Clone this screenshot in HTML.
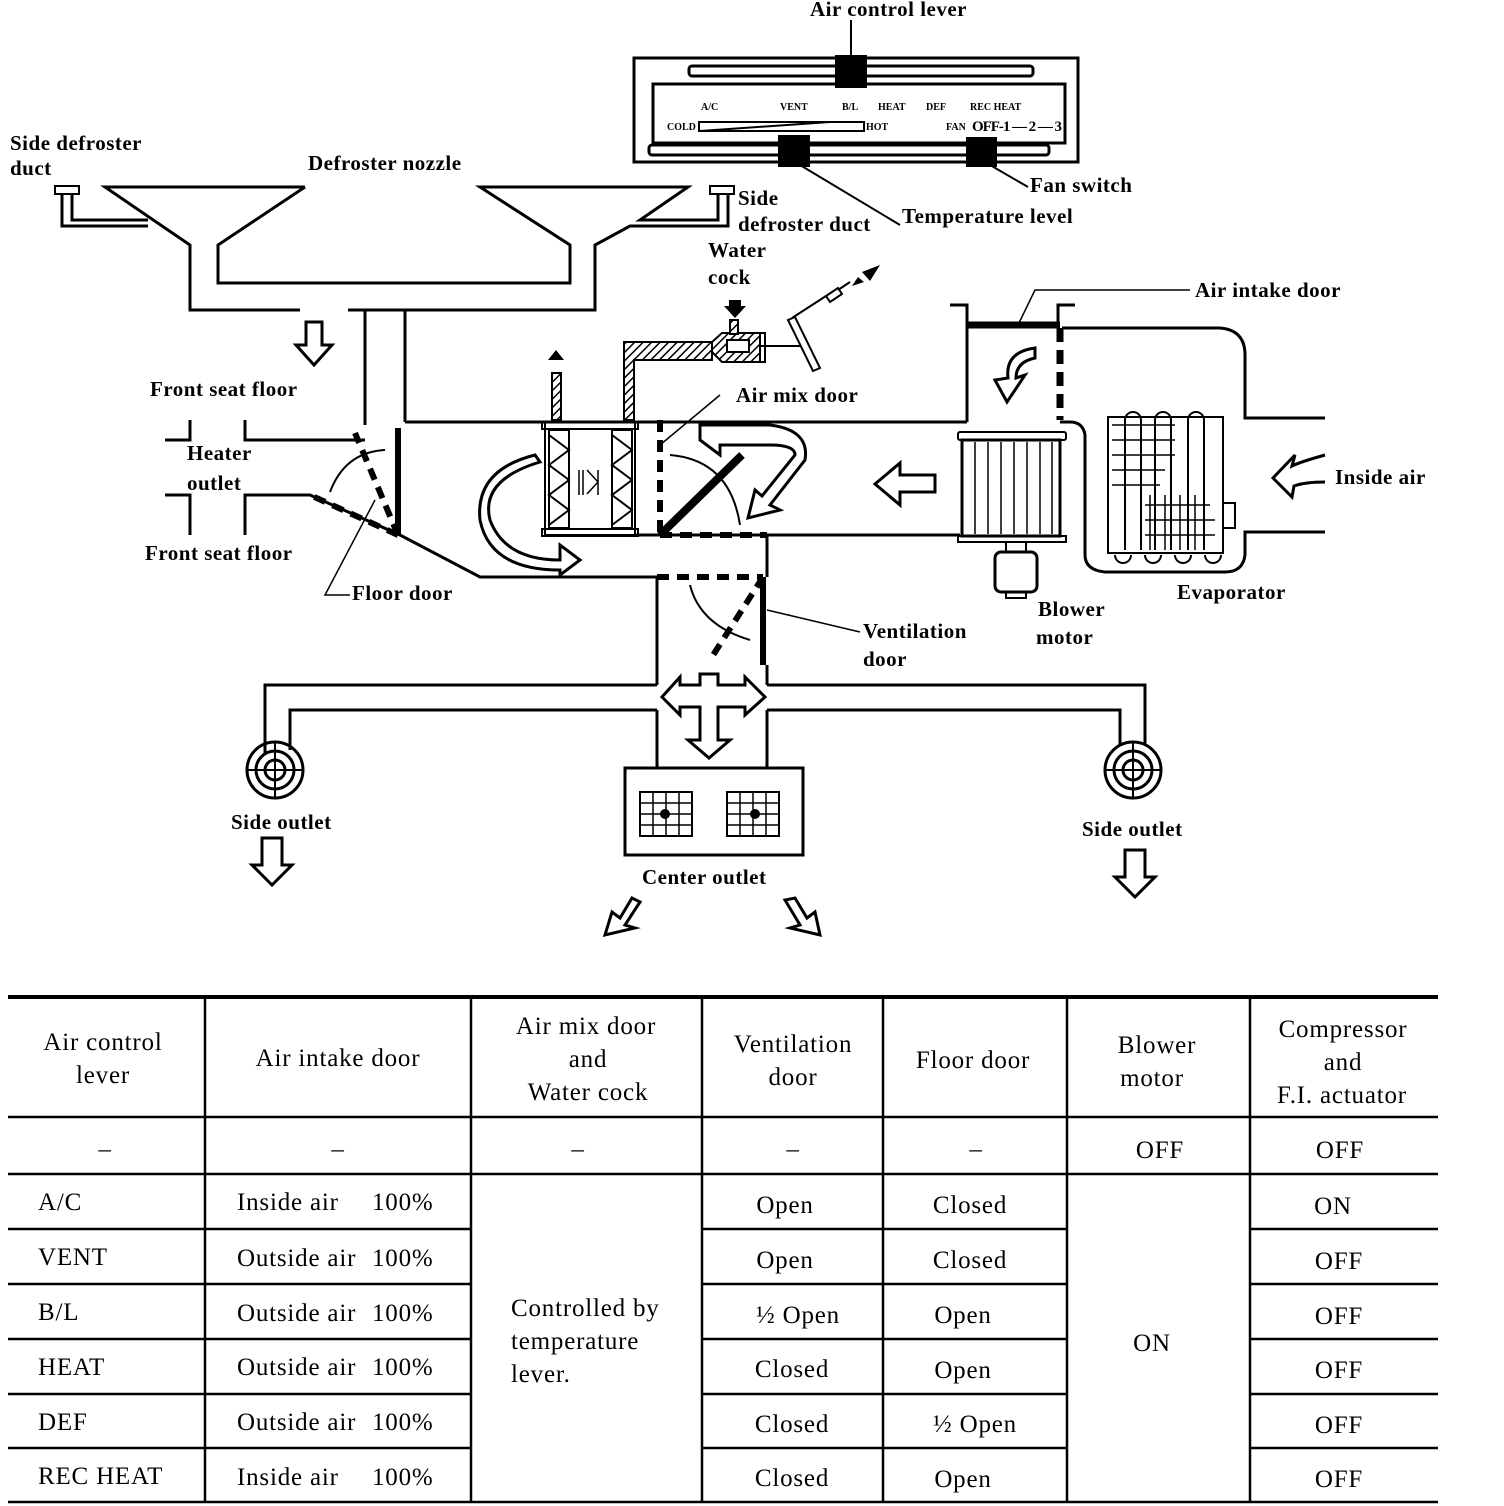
<!DOCTYPE html>
<html><head><meta charset="utf-8"><style>
html,body{margin:0;padding:0;background:#fff;}
svg{display:block;}
text{font-family:"Liberation Serif",serif;fill:#000;}
.l{font-size:21px;font-weight:bold;letter-spacing:0.5px;}
.t{font-size:25px;letter-spacing:0.8px;}
</style></head><body>
<svg width="1504" height="1506" viewBox="0 0 1504 1506" xmlns="http://www.w3.org/2000/svg">
<defs>
<pattern id="h" width="6" height="6" patternUnits="userSpaceOnUse" patternTransform="rotate(45)">
<rect width="6" height="6" fill="#fff"/><line x1="0" y1="0" x2="0" y2="6" stroke="#000" stroke-width="3"/>
</pattern>
</defs>
<g fill="none" stroke="#000" stroke-width="3">
<!-- control panel -->
<rect x="634" y="58" width="444" height="104"/>
<rect x="689" y="66" width="344" height="10" rx="3"/>
<rect x="653" y="84" width="412" height="59"/>
<rect x="649" y="145" width="400" height="10" rx="3"/>
<rect x="699" y="122" width="165" height="9" stroke-width="2"/>
<line x1="700" y1="131" x2="830" y2="122" stroke-width="2"/>
<line x1="851" y1="20" x2="851" y2="56" stroke-width="2"/>
<line x1="800" y1="165" x2="900" y2="225" stroke-width="2"/>
<line x1="990" y1="165" x2="1028" y2="187" stroke-width="2"/>
<!-- defroster nozzles -->
<polyline points="305,187 105,187 190,245 190,310 300,310"/>
<polyline points="305,187 218,245 218,283 570,283 570,245 480,187 688,187 640,220 718,220 718,193"/>
<polyline points="728,193 728,226 630,226 595,245 595,310 348,310"/>
<polyline points="148,220 72,220 72,193"/>
<polyline points="148,226 62,226 62,193"/>
<rect x="55" y="186" width="24" height="8" stroke-width="2"/>
<rect x="710" y="186" width="24" height="8" stroke-width="2"/>
<line x1="405" y1="310" x2="405" y2="422"/>
<line x1="365" y1="310" x2="365" y2="425"/>
<!-- front seat floor / heater outlet -->
<polyline points="165,440 190,440 190,420"/>
<polyline points="245,420 245,440 365,440"/>
<polyline points="165,495 190,495 190,535"/>
<polyline points="245,535 245,495 310,495 400,535 480,577 657,577"/>
<!-- case -->
<line x1="405" y1="422" x2="967" y2="422"/>
<line x1="635" y1="535" x2="960" y2="535"/>
<polyline points="950,305 967,305 967,422"/>
<polyline points="1058,328 1058,305 1075,305"/>
<path d="M1062 328 H1220 Q1245 330 1245 355 V418 H1325"/>
<path d="M1325 532 H1245 V555 Q1243 572 1225 572 H1105 Q1085 570 1085 555 V435 Q1083 422 1070 422 H1060"/>
<!-- heater core -->
<rect x="545" y="422" width="90" height="113" stroke-width="2"/>
<rect x="542" y="422" width="96" height="7" stroke-width="2"/>
<rect x="542" y="529" width="96" height="7" stroke-width="2"/>
<rect x="549" y="430" width="20" height="98" stroke-width="2"/>
<rect x="612" y="430" width="20" height="98" stroke-width="2"/>
<polyline points="549,435 569,450 549,465 569,480 549,495 569,510 549,525" stroke-width="2"/>
<polyline points="612,435 632,450 612,465 632,480 612,495 632,510 612,525" stroke-width="2"/>
<path d="M579 470V495M583 470V495M587 470L598 482L587 494M598 470V495" stroke-width="1.5"/>
<!-- water pipe -->
<path d="M624 420 V342 H712 V360 H634 V420Z" fill="url(#h)" stroke-width="2"/>
<path d="M712 342 L722 333 H760 V362 H722 L712 352Z" fill="url(#h)" stroke-width="2"/>
<rect x="727" y="340" width="22" height="12" fill="#fff" stroke-width="2"/>
<rect x="730" y="320" width="8" height="14" fill="url(#h)" stroke-width="2"/>
<line x1="760" y1="346" x2="800" y2="346" stroke-width="2"/>
<rect x="760" y="333" width="5" height="29" stroke-width="2"/>
<polygon points="788,320 795,317 820,368 813,371" stroke-width="2"/>
<line x1="792" y1="318" x2="826" y2="296" stroke-width="2"/>
<polygon points="826,296 838,288 842,294 830,302" stroke-width="2"/>
<line x1="838" y1="290" x2="850" y2="282" stroke-width="2"/>
<!-- exhaust pipe -->
<rect x="552" y="373" width="9" height="47" fill="url(#h)" stroke-width="2"/>
<!-- vertical duct down -->
<line x1="657" y1="577" x2="657" y2="685"/>
<line x1="767" y1="535" x2="767" y2="577"/>
<line x1="767" y1="665" x2="767" y2="685"/>
<polyline points="657,685 265,685 265,755"/>
<polyline points="657,710 290,710 290,750"/>
<polyline points="767,685 1145,685 1145,745"/>
<polyline points="767,710 1120,710 1120,745"/>
<line x1="657" y1="710" x2="657" y2="768"/>
<line x1="767" y1="710" x2="767" y2="768"/>
<rect x="625" y="768" width="178" height="87"/>
<rect x="640" y="792" width="52" height="44" stroke-width="2"/>
<rect x="727" y="792" width="52" height="44" stroke-width="2"/>
<path d="M653 792V836M666 792V836M679 792V836M640 803H692M640 814H692M640 825H692M740 792V836M753 792V836M766 792V836M727 803H779M727 814H779M727 825H779" stroke-width="1.5"/>
<!-- side outlet rings -->
<circle cx="275" cy="770" r="28"/><circle cx="275" cy="770" r="19"/><circle cx="275" cy="770" r="10"/>
<circle cx="1133" cy="770" r="28"/><circle cx="1133" cy="770" r="19"/><circle cx="1133" cy="770" r="10"/>
<path d="M247 770H303M275 742V798M1105 770H1161M1133 742V798" stroke-width="2"/>
<!-- blower -->
<rect x="958" y="432" width="108" height="8" rx="2" stroke-width="2"/>
<rect x="962" y="440" width="98" height="96"/>
<rect x="958" y="536" width="108" height="6" stroke-width="2"/>
<path d="M975 442V534M988 442V534M1001 442V534M1014 442V534M1027 442V534M1040 442V534M1052 442V534" stroke-width="1.5"/>
<rect x="1006" y="542" width="20" height="10" stroke-width="2"/>
<rect x="995" y="552" width="42" height="40" rx="6"/>
<rect x="1006" y="592" width="20" height="6" stroke-width="2"/>
<!-- evaporator -->
<rect x="1108" y="417" width="115" height="136" stroke-width="2"/>
<path d="M1125 550V420A8 8 0 0 1 1141 420V550M1155 550V420A8 8 0 0 1 1171 420V550M1188 550V420A8 8 0 0 1 1204 420V550" stroke-width="2"/>
<path d="M1112 425H1175M1112 440H1175M1112 455H1175M1112 470H1165M1112 485H1160M1145 505H1210M1145 520H1215M1145 535H1215M1150 495V550M1165 495V550M1180 495V550M1195 495V550" stroke-width="1.5"/>
<path d="M1115 555A8 8 0 0 0 1131 555M1145 555A8 8 0 0 0 1161 555M1175 555A8 8 0 0 0 1191 555M1205 555A8 8 0 0 0 1221 555" stroke-width="2"/>
<rect x="1223" y="503" width="12" height="25" stroke-width="2"/>
<!-- doors -->
<line x1="967" y1="325" x2="1060" y2="325" stroke-width="7"/>
<line x1="1060" y1="328" x2="1060" y2="420" stroke-width="7" stroke-dasharray="14,8"/>
<line x1="398" y1="428" x2="398" y2="535" stroke-width="6"/>
<line x1="398" y1="535" x2="355" y2="433" stroke-width="6" stroke-dasharray="12,8"/>
<line x1="398" y1="535" x2="310" y2="495" stroke-width="6" stroke-dasharray="12,8"/>
<path d="M330 492 Q345 452 385 450" stroke-width="2"/>
<line x1="660" y1="420" x2="660" y2="535" stroke-width="6" stroke-dasharray="12,8"/>
<line x1="660" y1="535" x2="767" y2="535" stroke-width="6" stroke-dasharray="12,8"/>
<line x1="660" y1="535" x2="742" y2="455" stroke-width="8"/>
<path d="M670 455 Q730 460 740 525" stroke-width="2"/>
<line x1="657" y1="577" x2="763" y2="577" stroke-width="6" stroke-dasharray="12,8"/>
<line x1="763" y1="577" x2="763" y2="665" stroke-width="6"/>
<line x1="763" y1="577" x2="710" y2="660" stroke-width="6" stroke-dasharray="12,8"/>
<path d="M690 585 Q700 625 750 640" stroke-width="2"/>
<!-- leader lines -->
<polyline points="1018,325 1035,290 1190,290" stroke-width="1.5"/>
<line x1="660" y1="445" x2="720" y2="395" stroke-width="1.5"/>
<line x1="767" y1="610" x2="860" y2="632" stroke-width="1.5"/>
<polyline points="350,595 325,595 375,500" stroke-width="1.5"/>
<!-- arrows (outline) -->
<polygon points="306,322 322,322 322,345 332,345 314,365 296,345 306,345"/>
<polygon points="935,475 900,475 900,463 875,484 900,505 900,492 935,492"/>
<polygon points="262,838 282,838 282,865 292,865 272,885 252,865 262,865"/>
<polygon points="1125,850 1145,850 1145,877 1155,877 1135,897 1115,877 1125,877"/>
<polygon points="700,685 700,674 718,674 718,685 745,685 745,677 765,697 745,715 745,707 718,707 718,740 730,740 709,758 688,740 700,740 700,707 680,707 680,715 662,697 680,677 680,685"/>
<path d="M640 902 L625 925 L635 928 L605 935 L612 912 L620 918 L632 898Z"/>
<path d="M785 900 L800 925 L790 928 L820 935 L815 912 L807 918 L795 898Z"/>
<path d="M540 462 Q480 480 490 520 Q505 560 560 560 L560 545 L580 560 L560 575 L560 570 Q490 570 480 520 Q475 470 535 455Z"/>
<path d="M700 440 L700 425 L770 425 Q810 430 805 460 L770 505 L780 510 L748 518 L755 490 L762 496 L795 455 Q795 445 770 445 L720 445 L720 455Z"/>
<path d="M1035 348 Q1005 352 1008 378 L995 380 L1007 402 L1025 375 L1016 378 Q1016 362 1035 358Z"/>
<path d="M1325 455 Q1300 462 1292 466 L1295 455 L1273 478 L1292 497 L1294 486 Q1305 482 1325 482"/>
</g>
<g fill="#000">
<rect x="835" y="55" width="32" height="33"/>
<rect x="778" y="135" width="32" height="32"/>
<rect x="966" y="137" width="31" height="30"/>
<polygon points="548,360 556,350 564,360"/>
<polygon points="729,300 741,300 741,306 746,306 735,318 724,306 729,306"/>
<polygon points="862,272 880,265 870,281"/>
<polygon points="852,286 858,277 864,282"/>
<circle cx="665" cy="814" r="5"/><circle cx="755" cy="814" r="5"/>
</g>
<g font-size="10" font-weight="bold" font-family="Liberation Sans">
<text x="701" y="110">A/C</text><text x="780" y="110">VENT</text><text x="842" y="110">B/L</text><text x="878" y="110">HEAT</text><text x="926" y="110">DEF</text><text x="970" y="110">REC HEAT</text>
<text x="667" y="130">COLD</text><text x="866" y="130">HOT</text><text x="946" y="130">FAN</text>
</g>
<text x="972" y="131" font-size="15" font-weight="bold" textLength="90">OFF-1 — 2 — 3</text>
<g class="l">
<text x="810" y="16">Air control lever</text>
<text x="10" y="150">Side defroster</text><text x="10" y="175">duct</text>
<text x="308" y="170">Defroster nozzle</text>
<text x="738" y="205">Side</text><text x="738" y="231">defroster duct</text>
<text x="1030" y="192">Fan switch</text>
<text x="902" y="223">Temperature level</text>
<text x="708" y="257">Water</text><text x="708" y="284">cock</text>
<text x="1195" y="297">Air intake door</text>
<text x="150" y="396">Front seat floor</text>
<text x="736" y="402">Air mix door</text>
<text x="187" y="460">Heater</text><text x="187" y="490">outlet</text>
<text x="1335" y="484">Inside air</text>
<text x="145" y="560">Front seat floor</text>
<text x="352" y="600">Floor door</text>
<text x="1177" y="599">Evaporator</text>
<text x="1038" y="616">Blower</text><text x="1036" y="644">motor</text>
<text x="863" y="638">Ventilation</text><text x="863" y="666">door</text>
<text x="231" y="829">Side outlet</text>
<text x="1082" y="836">Side outlet</text>
<text x="642" y="884">Center outlet</text>
</g>
<!-- table -->
<g stroke="#000" fill="none">
<line x1="8" y1="997" x2="1438" y2="997" stroke-width="4"/>
<line x1="8" y1="1117" x2="1438" y2="1117" stroke-width="2.5"/>
<line x1="8" y1="1174" x2="1438" y2="1174" stroke-width="2.5"/>
<line x1="8" y1="1229" x2="471" y2="1229" stroke-width="2.5"/><line x1="702" y1="1229" x2="1067" y2="1229" stroke-width="2.5"/><line x1="1250" y1="1229" x2="1438" y2="1229" stroke-width="2.5"/>
<line x1="8" y1="1284" x2="471" y2="1284" stroke-width="2.5"/><line x1="702" y1="1284" x2="1067" y2="1284" stroke-width="2.5"/><line x1="1250" y1="1284" x2="1438" y2="1284" stroke-width="2.5"/>
<line x1="8" y1="1339" x2="471" y2="1339" stroke-width="2.5"/><line x1="702" y1="1339" x2="1067" y2="1339" stroke-width="2.5"/><line x1="1250" y1="1339" x2="1438" y2="1339" stroke-width="2.5"/>
<line x1="8" y1="1394" x2="471" y2="1394" stroke-width="2.5"/><line x1="702" y1="1394" x2="1067" y2="1394" stroke-width="2.5"/><line x1="1250" y1="1394" x2="1438" y2="1394" stroke-width="2.5"/>
<line x1="8" y1="1448" x2="471" y2="1448" stroke-width="2.5"/><line x1="702" y1="1448" x2="1067" y2="1448" stroke-width="2.5"/><line x1="1250" y1="1448" x2="1438" y2="1448" stroke-width="2.5"/>
<line x1="8" y1="1502" x2="1438" y2="1502" stroke-width="2.5"/>
<path d="M205 997V1502M471 997V1502M702 997V1502M883 997V1502M1067 997V1502M1250 997V1502" stroke-width="2.5"/>
</g>
<g class="t" text-anchor="middle">
<text x="103" y="1050">Air control</text><text x="103" y="1083">lever</text>
<text x="338" y="1066">Air intake door</text>
<text x="586" y="1034">Air mix door</text><text x="588" y="1067">and</text><text x="588" y="1100">Water cock</text>
<text x="793" y="1052">Ventilation</text><text x="793" y="1085">door</text>
<text x="973" y="1068">Floor door</text>
<text x="1157" y="1053">Blower</text><text x="1152" y="1086">motor</text>
<text x="1343" y="1037">Compressor</text><text x="1343" y="1070">and</text><text x="1342" y="1103">F.I. actuator</text>
<text x="105" y="1157">–</text><text x="338" y="1157">–</text><text x="578" y="1157">–</text><text x="793" y="1157">–</text><text x="976" y="1157">–</text>
<text x="1160" y="1158">OFF</text><text x="1340" y="1158">OFF</text>
<text x="785" y="1213">Open</text><text x="970" y="1213">Closed</text><text x="1333" y="1214">ON</text>
<text x="785" y="1268">Open</text><text x="970" y="1268">Closed</text><text x="1339" y="1269">OFF</text>
<text x="798" y="1323">½ Open</text><text x="963" y="1323">Open</text><text x="1339" y="1324">OFF</text>
<text x="792" y="1377">Closed</text><text x="963" y="1378">Open</text><text x="1339" y="1378">OFF</text>
<text x="792" y="1432">Closed</text><text x="975" y="1432">½ Open</text><text x="1339" y="1433">OFF</text>
<text x="792" y="1486">Closed</text><text x="963" y="1487">Open</text><text x="1339" y="1487">OFF</text>
<text x="1152" y="1351">ON</text>
</g>
<g class="t">
<text x="38" y="1210">A/C</text><text x="38" y="1265">VENT</text><text x="38" y="1320">B/L</text><text x="38" y="1375">HEAT</text><text x="38" y="1430">DEF</text><text x="38" y="1484">REC  HEAT</text>
<text x="237" y="1210">Inside air</text><text x="372" y="1210">100%</text>
<text x="237" y="1266">Outside air</text><text x="372" y="1266">100%</text>
<text x="237" y="1321">Outside air</text><text x="372" y="1321">100%</text>
<text x="237" y="1375">Outside air</text><text x="372" y="1375">100%</text>
<text x="237" y="1430">Outside air</text><text x="372" y="1430">100%</text>
<text x="237" y="1485">Inside air</text><text x="372" y="1485">100%</text>
<text x="511" y="1316">Controlled by</text><text x="511" y="1349">temperature</text><text x="511" y="1382">lever.</text>
</g>
</svg>
</body></html>
